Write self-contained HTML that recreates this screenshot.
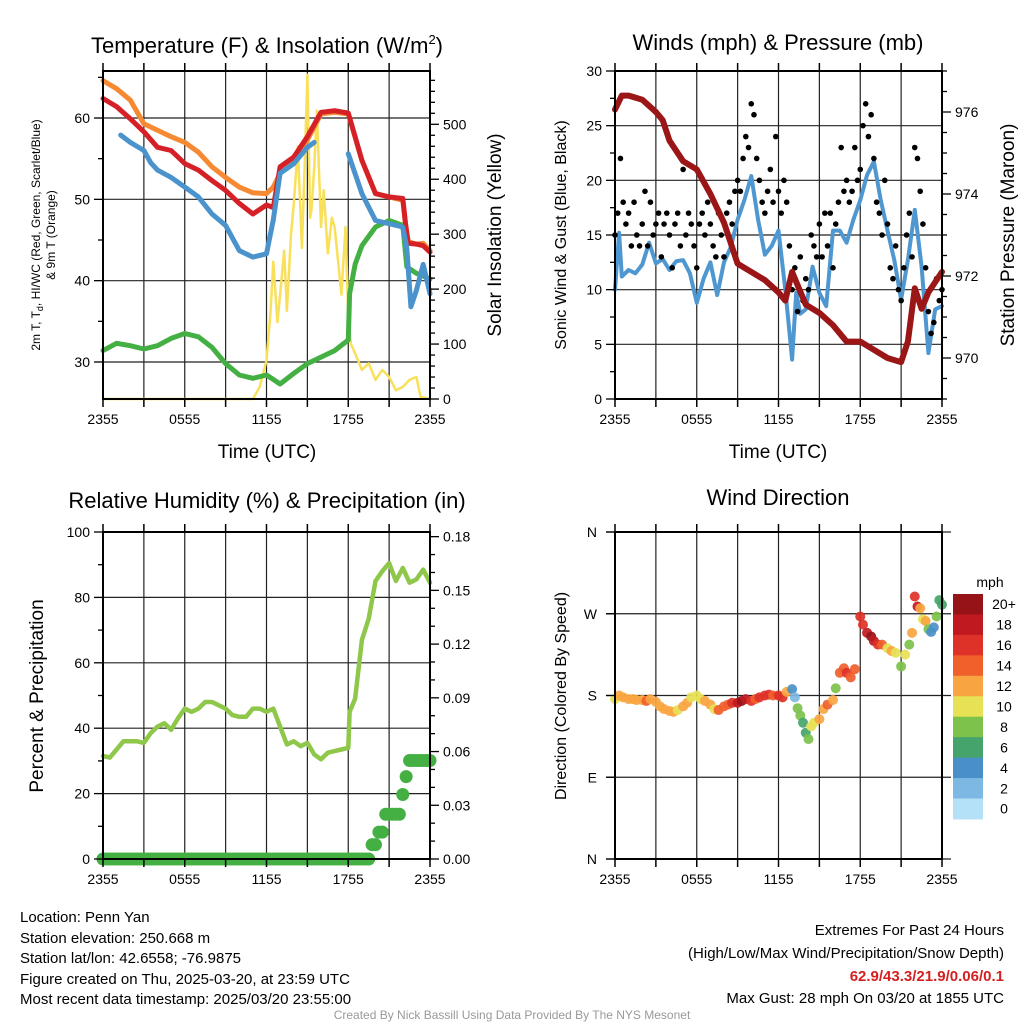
<!DOCTYPE html>
<html><head><meta charset="utf-8">
<style>
html,body{margin:0;padding:0;background:#fff;}
svg{display:block;font-family:"Liberation Sans",Arial,sans-serif;}
</style></head>
<body>
<svg id="c" width="1024" height="1024" viewBox="0 0 1024 1024" xmlns="http://www.w3.org/2000/svg">
<g id="grid"></g>
<g id="marks"></g>
<g id="axes"></g>
<g id="texts" font-size="15" fill="#000">
<text x="267" y="53" font-size="22" text-anchor="middle">Temperature (F) &amp; Insolation (W/m<tspan font-size="13" dy="-9">2</tspan><tspan dy="9">)</tspan></text>
<text x="778" y="50" font-size="22" text-anchor="middle">Winds (mph) &amp; Pressure (mb)</text>
<text x="267" y="508" font-size="22" text-anchor="middle">Relative Humidity (%) &amp; Precipitation (in)</text>
<text x="778" y="505" font-size="22" text-anchor="middle">Wind Direction</text>
<text x="267" y="458" font-size="19" text-anchor="middle">Time (UTC)</text>
<text x="778" y="458" font-size="19" text-anchor="middle">Time (UTC)</text>
<text transform="translate(40,235) rotate(-90)" font-size="12" text-anchor="middle">2m T, T<tspan font-size="9" dy="3">d</tspan><tspan dy="-3">, HI/WC (Red, Green, Scarlet/Blue)</tspan></text>
<text transform="translate(55,235) rotate(-90)" font-size="12" text-anchor="middle">&amp; 9m T (Orange)</text>
<text transform="translate(501,235) rotate(-90)" font-size="19" text-anchor="middle">Solar Insolation (Yellow)</text>
<text transform="translate(566,235) rotate(-90)" font-size="16" text-anchor="middle">Sonic Wind &amp; Gust (Blue, Black)</text>
<text transform="translate(1014,235) rotate(-90)" font-size="19" text-anchor="middle">Station Pressure (Maroon)</text>
<text transform="translate(43,696) rotate(-90)" font-size="19" text-anchor="middle">Percent &amp; Precipitation</text>
<text transform="translate(566,696) rotate(-90)" font-size="16" text-anchor="middle">Direction (Colored By Speed)</text>
<text x="990" y="587" font-size="14" text-anchor="middle">mph</text>
<g>
<text x="20" y="922">Location: Penn Yan</text>
<text x="20" y="943">Station elevation: 250.668 m</text>
<text x="20" y="963">Station lat/lon: 42.6558; -76.9875</text>
<text x="20" y="984">Figure created on Thu, 2025-03-20, at 23:59 UTC</text>
<text x="20" y="1004">Most recent data timestamp: 2025/03/20 23:55:00</text>
</g>
<g text-anchor="end">
<text x="1004" y="935">Extremes For Past 24 Hours</text>
<text x="1004" y="958">(High/Low/Max Wind/Precipitation/Snow Depth)</text>
<text x="1004" y="981" fill="#d42020" font-weight="bold">62.9/43.3/21.9/0.06/0.1</text>
<text x="1004" y="1003">Max Gust: 28 mph On 03/20 at 1855 UTC</text>
</g>
<text x="512" y="1019" font-size="12" fill="#999" text-anchor="middle">Created By Nick Bassill Using Data Provided By The NYS Mesonet</text>
</g>
</svg>
<script>
// ---------- data ----------
const tTimes = [0,1,2,3,4,5,6,7,8,9,10,11,12,12.5,13,14,15,16,17,18,19,20,21,22,22.2,22.4,23,23.5,24];
const temp9m = [64.6,63.6,62.2,59.3,58.5,57.7,57,55.8,54,52.7,51.5,50.8,50.7,51.5,53.2,54.8,57.3,60.5,60.7,60.5,54.8,50.7,50.3,49.9,47,44.8,44.5,44.6,43.7];
const temp2m = [62.4,61.4,59.9,58.3,56.4,56,54.4,53.6,52.3,51.1,49.5,48.2,49.3,49,54,55.2,57.7,60.7,60.9,60.6,54.8,50.7,50.3,50.1,47,44.6,44.5,44.3,43.5];
const hiTimes1 = [1.3,2,3,3.5,4,5,6,7,8,9,10,11,12,12.5,13,14,15,15.5];
const hiVals1 = [57.9,57,56,54.5,53.6,52.7,51.5,50.3,48.2,46.8,43.7,42.9,43.3,47.5,53.2,54.4,56.4,57];
const hiTimes2 = [18,19,20,21,22,22.3,22.6,23,23.5,24];
const hiVals2 = [55.6,50.7,47.4,47,46.6,44,36.8,38.8,42,38.4];
const dewTimes = [0,1,2,3,4,5,6,7,8,9,10,11,12,13,14,15,16,17,18,18.1,18.5,19,20,21,22,22.3,23,24];
const dewVals = [31.4,32.3,32,31.6,32,32.9,33.5,33.1,31.8,29.8,28.4,28,28.4,27.3,28.6,29.8,30.6,31.4,32.7,38.4,42,44.3,46.6,47.4,46.8,41.7,40.9,40.2];
const solTimes = [0,11,11.5,12,12.3,12.5,12.8,13,13.3,13.5,13.8,14,14.3,14.6,14.8,15,15.2,15.3,15.5,15.7,16,16.2,16.5,16.8,17,17.3,17.5,17.8,18,18.2,18.5,19,19.5,20,20.5,21,21.5,22,22.5,23,23.3,24];
const solVals = [0,0,22,70,160,250,140,190,270,160,300,355,460,275,420,590,330,345,420,525,313,380,265,330,313,240,190,313,150,100,83,53,65,35,53,40,16,22,35,40,4,0];
const presTimes = [0,0.5,1,2,3,3.5,4,5,6,7,8,9,10,11,12,12.5,13,13.5,14,15,16,17,18,19,20,21,21.5,22,22.5,23,24];
const presVals = [976.06,976.4,976.4,976.3,976.0,975.8,975.3,974.8,974.6,974.0,973.3,972.3,972.1,971.9,971.6,971.4,972.1,971.7,971.3,971.1,970.8,970.4,970.4,970.2,970.0,969.9,970.4,971.7,971.2,971.6,972.1];
const windTimes = [0,0.3,0.5,1,1.5,2,2.5,3,3.5,4,4.5,5,5.5,6,6.5,7,7.5,8,8.5,9,9.5,10,10.5,11,11.5,12,12.5,13,13.3,13.6,14,14.5,15,15.5,16,16.5,17,17.5,18,18.5,19,19.5,20,20.5,21,21.5,22,22.5,23,23.5,24];
const windVals = [10,15.2,11.2,11.8,11.5,12.3,14.3,12.4,12.8,11.8,12.6,12.7,11.5,8.8,11,12.5,9.5,12.5,13.9,16.4,18.2,20.4,16.4,13.2,14,15.4,10,3.6,9.7,7.8,8.2,12.1,9.7,8.5,15.4,15.4,14.3,16.4,18.2,20.5,21.7,18.2,15.4,12.7,9.1,12.7,17.3,12.1,4.2,8.2,8.5];
const gustVals = [15,17,22,18,16,17,14,18,15,14,16,19,14,18,15,16,17,13,16,17,15,12,16,17,14,21,15,17,16,14,12,16,17,15,18,16,14,13,17,15,13,17,18,16,19,20,19,22,24,23,27,26,22,20,18,17,19,21,18,24,19,17,20,18,14,10,12,8,13,9,11,10,15,14,13,16,13,17,14,17,12,16,18,23,19,20,18,19,23,20,21,25,27,24,26,22,18,17,15,20,16,12,11,14,10,9,12,15,17,13,23,22,19,16,12,8,6,7,11,9,10];
const rhTimes = [0,0.5,1,1.5,2,2.5,3,3.5,4,4.5,5,5.5,6,6.5,7,7.5,8,8.5,9,9.5,10,10.5,11,11.5,12,12.5,13,13.5,14,14.5,15,15.5,16,16.5,17,17.5,18,18.1,18.5,19,19.5,20,20.5,21,21.5,22,22.5,23,23.5,24];
const rhVals = [31.5,31,33.5,36,36,36,35.5,38.5,40.5,41.5,39.5,43,46,45,46,48,48,47,46,44,43.5,43.5,46,46,45,46,40.5,35,36,34.5,35.5,32,30.5,32.5,33,33.5,34,45,49,67,73.5,85,88,90.5,85,89,84.5,85.5,88.5,84.5];
const precipVals = [0,0,0,0,0,0,0,0,0,0,0,0,0,0,0,0,0,0,0,0,0,0,0,0,0,0,0,0,0,0,0,0,0,0,0,0,0,0,0,0,0,0,0,0,0,0,0,0,0,0,0,0,0,0,0,0,0,0,0,0,0,0,0,0,0,0,0,0,0,0,0,0,0,0,0,0,0,0,0,0.008,0.008,0.015,0.015,0.025,0.025,0.025,0.025,0.025,0.036,0.046,0.055,0.055,0.055,0.055,0.055,0.055,0.055];
const dirTimes = [0,0.3,0.6,1,1.3,1.6,2,2.3,2.6,3,3.3,3.6,4,4.3,4.6,5,5.3,5.6,6,6.3,6.6,7,7.3,7.6,8,8.3,8.6,9,9.3,9.6,10,10.3,10.6,11,11.3,11.6,12,12.3,12.6,13,13.2,13.4,13.6,13.8,14,14.2,14.4,14.6,15,15.3,15.6,16,16.2,16.5,16.8,17,17.3,17.6,18,18.2,18.5,18.8,19,19.3,19.6,20,20.3,20.6,21,21.3,21.6,21.8,22,22.2,22.4,22.6,22.8,23,23.2,23.4,23.6,23.8,24];
const dirVals = [176,180,178,176,176,175,175,174,176,173,168,165,163,162,164,168,172,178,180,176,174,170,165,164,168,170,172,172,174,176,174,176,178,180,181,180,180,178,184,187,178,166,158,150,139,132,146,150,154,165,170,175,188,205,210,205,200,209,267,258,249,245,240,236,236,232,229,227,212,225,236,249,289,278,276,264,262,253,250,255,267,285,280];
const dirSpeeds = [10,12,13,12,12,13,12,14,12,12,13,12,12,12,11,13,12,11,10,11,12,12,11,14,14,15,17,19,20,18,16,15,17,17,16,14,16,17,13,4,3,9,8,7,6,9,10,11,12,13,14,12,8,14,15,16,15,14,16,17,19,20,19,17,15,10,12,11,8,10,9,12,17,18,13,11,13,9,5,4,8,7,6];
const cbLabels = ["20+","18","16","14","12","10","8","6","4","2","0"];
const cbColors = ["#961318","#c0191f","#de3127","#f0602b","#f8a541","#e6e155","#7dc24b","#45a46b","#4a90c8","#7cb8e2","#b4e1f7"];
const xTickHours = [0,6,12,18,24];
const xTickLabels = ["2355","0555","1155","1755","2355"];
const dirLabels = ["N","E","S","W","N"];
const dirTickVals = [0,90,180,270,360];

// ---------- helpers ----------
const NS="http://www.w3.org/2000/svg";
function mk(tag,attrs,parent){const e=document.createElementNS(NS,tag);for(const k in attrs)e.setAttribute(k,attrs[k]);parent.appendChild(e);return e;}
const G=document.getElementById('grid'),M=document.getElementById('marks'),A=document.getElementById('axes');
function panel(x0,x1,y0,y1){return{x0,x1,y0,y1,X:h=>x0+(x1-x0)*h/24,Y:(v,lo,hi)=>y1-(y1-y0)*(v-lo)/(hi-lo)};}
const P1=panel(103,430,71,399),P2=panel(615,942,71,399),P3=panel(103,430,532,859),P4=panel(615,942,532,859);
const T_LO=25.45,T_HI=65.78,S_HI=597,W_HI=30,PR_LO=969,PR_HI=977,R_HI=100,PC_HI=0.1826;
function line(P,times,vals,lo,hi,color,w,name){
  const d=times.map((t,i)=>(i?'L':'M')+P.X(t).toFixed(1)+','+P.Y(vals[i],lo,hi).toFixed(1)).join('');
  const p=mk('path',{d,fill:'none',stroke:color,'stroke-width':w,'stroke-linejoin':'round','stroke-linecap':'round'},M);
  
  
}
function frame(P,name,leftTicks,rightTicks,gridY,ext){
  const g=mk('g',{},A);
  
  
  const e=ext||0;
  for(let h=3;h<24;h+=3){mk('line',{x1:P.X(h),x2:P.X(h),y1:P.y0,y2:P.y1,stroke:'#222','stroke-width':1.2},G);}
  gridY.forEach(y=>mk('line',{x1:P.x0-e,x2:P.x1+e,y1:y,y2:y,stroke:'#222','stroke-width':1.2},G));
  mk('rect',{x:P.x0,y:P.y0,width:P.x1-P.x0,height:P.y1-P.y0,fill:'none',stroke:'#000','stroke-width':2},g);
  for(let h=0;h<=24;h+=3){const x=P.X(h);mk('line',{x1:x,x2:x,y1:P.y1,y2:P.y1+8,stroke:'#000','stroke-width':1.5},g);mk('line',{x1:x,x2:x,y1:P.y0,y2:P.y0-8,stroke:'#000','stroke-width':1.5},g);}
  xTickHours.forEach((h,i)=>{const t=mk('text',{x:P.X(h),y:P.y1+25,'font-size':14,'text-anchor':'middle'},g);t.textContent=xTickLabels[i];});
  leftTicks.forEach(tk=>mk('line',{x1:P.x0-(tk.major?9:5),x2:P.x0,y1:tk.y,y2:tk.y,stroke:'#000','stroke-width':1.3},g));
  rightTicks.forEach(tk=>mk('line',{x1:P.x1,x2:P.x1+(tk.major?9:5),y1:tk.y,y2:tk.y,stroke:'#000','stroke-width':1.3},g));
  return g;
}
function label(g,x,y,txt,anchor){const t=mk('text',{x,y:y+5,'font-size':14,'text-anchor':anchor},g);t.textContent=txt;}

// ---------- panel 1 ----------
{
 const lt=[],rt=[],gy=[];
 for(let v=30;v<=65;v+=5)lt.push({y:P1.Y(v,T_LO,T_HI),major:v%10==0});
 for(let v=0;v<=580;v+=20)rt.push({y:P1.Y(v,0,S_HI),major:v%100==0});
 [30,40,50,60].forEach(v=>gy.push(P1.Y(v,T_LO,T_HI)));
 const g=frame(P1,'temperature-axes',lt,rt,gy);
 [30,40,50,60].forEach(v=>label(g,P1.x0-13,P1.Y(v,T_LO,T_HI),v,'end'));
 [0,100,200,300,400,500].forEach(v=>label(g,P1.x1+13,P1.Y(v,0,S_HI),v,'start'));
 line(P1,solTimes,solVals,0,S_HI,'#f9e05a',2.5,'solar-insolation-line');
 line(P1,dewTimes,dewVals,T_LO,T_HI,'#44b044',5,'dewpoint-line');
 line(P1,tTimes,temp9m,T_LO,T_HI,'#f58a33',5,'temp-9m-line');
 line(P1,tTimes,temp2m,T_LO,T_HI,'#d62028',5,'temp-2m-line');
 line(P1,hiTimes1,hiVals1,T_LO,T_HI,'#4a93cc',5,'wind-chill-line-1');
 line(P1,hiTimes2,hiVals2,T_LO,T_HI,'#4a93cc',5,'wind-chill-line-2');
}
// ---------- panel 2 ----------
{
 const lt=[],rt=[],gy=[];
 for(let v=0;v<=30;v+=2.5)lt.push({y:P2.Y(v,0,W_HI),major:v%5==0});
 for(let v=969;v<=977;v+=0.5)rt.push({y:P2.Y(v,PR_LO,PR_HI),major:v%2==0});
 [5,10,15,20,25].forEach(v=>gy.push(P2.Y(v,0,W_HI)));
 const g=frame(P2,'wind-axes',lt,rt,gy);
 [0,5,10,15,20,25,30].forEach(v=>label(g,P2.x0-13,P2.Y(v,0,W_HI),v,'end'));
 [970,972,974,976].forEach(v=>label(g,P2.x1+13,P2.Y(v,PR_LO,PR_HI),v,'start'));
 line(P2,windTimes,windVals,0,W_HI,'#4f97d0',4,'wind-speed-line');
 gustVals.forEach((v,i)=>{
   const c=mk('circle',{cx:P2.X(i*0.2),cy:P2.Y(v,0,W_HI),r:2.8,fill:'#000'},M);
   
   
 });
 line(P2,presTimes,presVals,PR_LO,PR_HI,'#9b1616',6,'pressure-line');
}
// ---------- panel 3 ----------
{
 const lt=[],rt=[],gy=[];
 for(let v=0;v<=100;v+=10)lt.push({y:P3.Y(v,0,R_HI),major:v%20==0});
 for(let v=0;v<=18;v+=1)rt.push({y:P3.Y(v/100,0,PC_HI),major:v%3==0});
 [20,40,60,80].forEach(v=>gy.push(P3.Y(v,0,R_HI)));
 const g=frame(P3,'humidity-axes',lt,rt,gy);
 [0,20,40,60,80,100].forEach(v=>label(g,P3.x0-13,P3.Y(v,0,R_HI),v,'end'));
 ["0.00","0.03","0.06","0.09","0.12","0.15","0.18"].forEach(s=>label(g,P3.x1+13,P3.Y(parseFloat(s),0,PC_HI),s,'start'));
 line(P3,rhTimes,rhVals,0,R_HI,'#8fc74a',4.5,'relative-humidity-line');
 precipVals.forEach((v,i)=>{
   const c=mk('circle',{cx:P3.X(i*0.25),cy:P3.Y(v,0,PC_HI),r:6.5,fill:'#44b044'},M);
   
   
 });
}
// ---------- panel 4 ----------
{
 const lt=dirTickVals.map(v=>({y:P4.Y(v,0,360),major:true}));
 const gy=[0,90,180,270,360].map(v=>P4.Y(v,0,360));
 const g=frame(P4,'direction-axes',lt,[],gy,9);
 dirTickVals.forEach((v,i)=>label(g,P4.x0-18,P4.Y(v,0,360),dirLabels[i],'end'));
 function colorFor(s){let k=Math.min(10,Math.floor(s/2));return cbColors[10-k];}
 dirVals.forEach((v,i)=>{
   const c=mk('circle',{cx:P4.X(dirTimes[i]),cy:P4.Y(v,0,360),r:5,fill:colorFor(dirSpeeds[i]),'fill-opacity':0.92},M);
   
   
 });
 const cb=mk('g',{},A);
 
 
 const cy0=594,ch=20.45;
 cbColors.forEach((c,i)=>{
   mk('rect',{x:953,y:cy0+i*ch,width:30,height:ch+0.5,fill:c},cb);
   const t=mk('text',{x:1004,y:cy0+i*ch+ch/2+5,'font-size':14,'text-anchor':'middle'},cb);
   t.textContent=cbLabels[i];
 });
}
</script>
</body></html>
